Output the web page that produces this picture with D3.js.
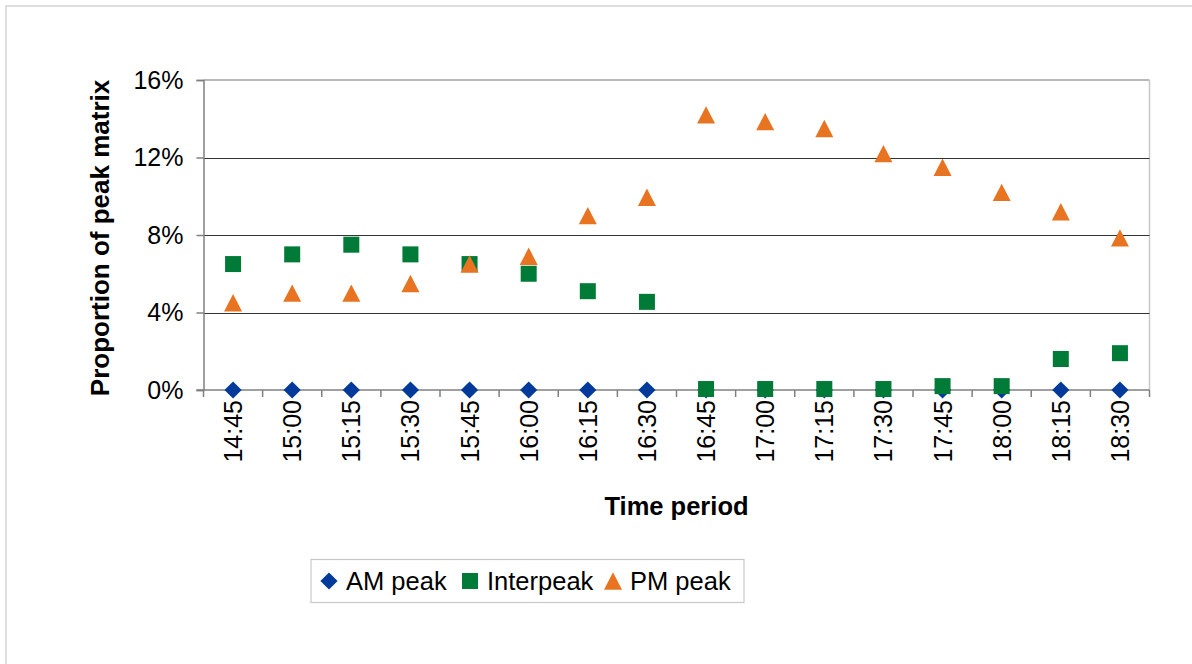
<!DOCTYPE html>
<html>
<head>
<meta charset="utf-8">
<script src="https://cdn.jsdelivr.net/npm/d3@7"></script>
<style>
  html, body { margin: 0; padding: 0; background: #fff; }
  svg { display: block; font-family: "Liberation Sans", Arial, sans-serif; }
</style>
</head>
<body>
<svg id="chart" width="1192" height="664"></svg>
<script>
// Time periods on the x axis
const periods = ["14:45", "15:00", "15:15", "15:30", "15:45", "16:00", "16:15", "16:30",
                 "16:45", "17:00", "17:15", "17:30", "17:45", "18:00", "18:15", "18:30"];

// Proportion of the peak matrix in each period, per series
const amPeak = [0, 0, 0, 0, 0, 0, 0, 0, 0, 0, 0, 0, 0, 0, 0, 0];
const interpeak = [0.065, 0.070, 0.075, 0.070, 0.065, 0.060, 0.051, 0.0455,
                   0.0005, 0.0005, 0.0005, 0.0005, 0.002, 0.002, 0.016, 0.019];
const pmPeak = [0.045, 0.050, 0.050, 0.055, 0.065, 0.069, 0.090, 0.0995,
                0.142, 0.1385, 0.135, 0.122, 0.115, 0.102, 0.092, 0.0785];

const yTicks = [0, 0.04, 0.08, 0.12, 0.16];

const seriesNames = ["AM peak", "Interpeak", "PM peak"];
const seriesValues = [amPeak, interpeak, pmPeak];
const seriesColors = ["#023a9c", "#007a37", "#e87422"];
const seriesShapes = ["diamond", "square", "triangle"];

const svg = d3.select("#chart");
const W = 1192, H = 664;
const plot = { left: 203.5, right: 1149.5, top: 80, bottom: 390 };

// Chart area border
svg.append("rect")
  .attr("x", 6).attr("y", 6)
  .attr("width", W + 20).attr("height", H + 20)
  .attr("fill", "#fff")
  .attr("stroke", "#d4d4d4").attr("stroke-width", 1.5);

const x = d3.scaleBand().domain(periods).range([plot.left, plot.right]);
const y = d3.scaleLinear().domain([0, 0.16]).range([plot.bottom, plot.top]);

// Plot area frame (top and right edges)
svg.append("line")
  .attr("x1", plot.left).attr("x2", plot.right)
  .attr("y1", plot.top).attr("y2", plot.top)
  .attr("stroke", "#a0a0a0").attr("stroke-width", 1.5);
svg.append("line")
  .attr("x1", plot.right).attr("x2", plot.right)
  .attr("y1", plot.top).attr("y2", plot.bottom)
  .attr("stroke", "#c8c8c8").attr("stroke-width", 1.5);

// Horizontal gridlines
svg.append("g")
  .selectAll("line")
  .data(yTicks.filter(t => t > 0 && t < 0.16))
  .join("line")
  .attr("x1", plot.left).attr("x2", plot.right)
  .attr("y1", d => Math.round(y(d)) + 0.5).attr("y2", d => Math.round(y(d)) + 0.5)
  .attr("stroke", "#333").attr("stroke-width", 1);

// Y axis
const yAxis = d3.axisLeft(y)
  .tickValues(yTicks)
  .tickFormat(d3.format(".0%"))
  .tickSize(7)
  .tickPadding(13);
const yg = svg.append("g")
  .attr("transform", `translate(${plot.left},0)`)
  .call(yAxis);
yg.select(".domain").attr("stroke", "#808080").attr("stroke-width", 1.5);
yg.selectAll(".tick line").attr("stroke", "#808080").attr("stroke-width", 1.5);
yg.selectAll(".tick text")
  .attr("font-size", 25).attr("fill", "#000")
  .attr("font-family", "Liberation Sans, Arial, sans-serif");

// X axis: ticks on category boundaries, labels rotated
const xg = svg.append("g").attr("transform", `translate(0,${plot.bottom})`);
xg.append("line")
  .attr("x1", plot.left - 7).attr("x2", plot.right)
  .attr("y1", 0).attr("y2", 0)
  .attr("stroke", "#808080").attr("stroke-width", 1.5);
xg.selectAll("line.tk")
  .data(periods.concat([null]))
  .join("line")
  .attr("class", "tk")
  .attr("x1", (d, i) => plot.left + i * x.step())
  .attr("x2", (d, i) => plot.left + i * x.step())
  .attr("y1", 0).attr("y2", 7)
  .attr("stroke", "#808080").attr("stroke-width", 1.5);
xg.selectAll("text")
  .data(periods)
  .join("text")
  .attr("transform", d => `translate(${x(d) + x.bandwidth() / 2 + 9},10) rotate(-90)`)
  .attr("text-anchor", "end")
  .attr("font-size", 25)
  .attr("fill", "#000")
  .text(d => d);

// Axis titles
svg.append("text")
  .attr("transform", `translate(${(plot.left + plot.right) / 2},515)`)
  .attr("text-anchor", "middle")
  .attr("font-size", 25.5).attr("font-weight", "bold")
  .text("Time period");
svg.append("text")
  .attr("transform", `translate(109,${(plot.top + plot.bottom) / 2 + 3}) rotate(-90)`)
  .attr("text-anchor", "middle")
  .attr("font-size", 26).attr("font-weight", "bold")
  .text("Proportion of peak matrix");

// Marker paths centred on (0,0)
function markerPath(shape) {
  if (shape === "diamond") {
    const r = 8.6;
    return `M0,${-r}L${r},0L0,${r}L${-r},0Z`;
  }
  if (shape === "square") {
    const h = 8;
    return `M${-h},${-h}H${h}V${h}H${-h}Z`;
  }
  const w = 9, hh = 8.7;
  return `M0,${-hh}L${w},${hh}L${-w},${hh}Z`;
}

// Series markers
seriesValues.forEach((vals, si) => {
  svg.append("g")
    .selectAll("path")
    .data(vals.map((v, i) => ({ p: periods[i], v })))
    .join("path")
    .attr("d", markerPath(seriesShapes[si]))
    .attr("transform", d => `translate(${x(d.p) + x.bandwidth() / 2},${y(d.v)})`)
    .attr("fill", seriesColors[si]);
});

// Legend
const legend = svg.append("g");
legend.append("rect")
  .attr("x", 311).attr("y", 559.5)
  .attr("width", 433).attr("height", 43)
  .attr("fill", "#fff")
  .attr("stroke", "#c8c8c8").attr("stroke-width", 1.2);
const legendX = [329, 470, 613];
seriesNames.forEach((name, i) => {
  legend.append("path")
    .attr("d", markerPath(seriesShapes[i]))
    .attr("transform", `translate(${legendX[i]},581)`)
    .attr("fill", seriesColors[i]);
  legend.append("text")
    .attr("x", legendX[i] + 17).attr("y", 590)
    .attr("font-size", 25.5)
    .attr("fill", "#000")
    .text(name);
});
</script>
</body>
</html>
